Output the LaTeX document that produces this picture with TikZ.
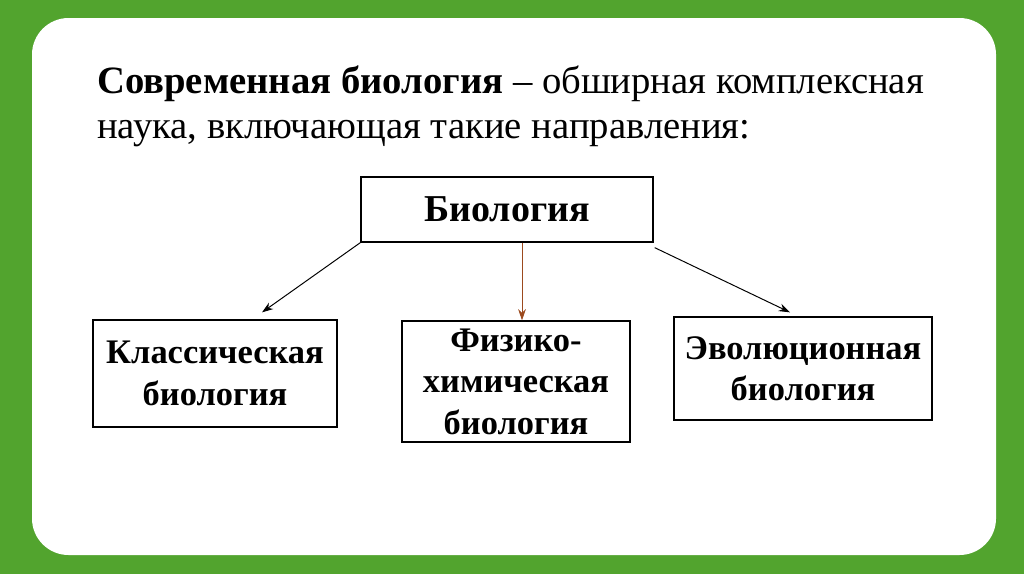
\documentclass[tikz,border=0pt]{standalone}
\usepackage{fontspec}
\setmainfont{Liberation Serif}
\usepackage{xcolor}
\usetikzlibrary{calc, positioning, arrows.meta}

\definecolor{fonzel}{HTML}{52A42E}
\definecolor{strelka}{HTML}{9C4A1E}

\begin{document}
\begin{tikzpicture}[x=0.025cm, y=-0.025cm,
    blok/.style={draw, line width=0.9pt, align=center, font=\fontsize{24.5}{29.5}\selectfont\bfseries, inner sep=0pt},
    vetv/.style={-{Stealth[length=8pt, width=5.5pt]}, line width=0.7pt}]

    % =================================================================
    % 1. FON: ZELYONAYA RAMKA I BELOE POLE
    % =================================================================
    \useasboundingbox (0,0) rectangle (1024,574);
    \fill[fonzel] (0,0) rectangle (1024,574);
    \fill[white, rounded corners=26] (32,18) rectangle (996,555);

    % =================================================================
    % 2. ZAGOLOVOK
    % =================================================================
    \node[anchor=north west, align=left, inner sep=0pt,
          font=\fontsize{27.5}{32}\selectfont] (zagolovok) at (97,66)
        {\textbf{Современная биология} – обширная комплексная\\
         наука, включающая такие направления:};

    % =================================================================
    % 3. BLOKI SKHEMY
    % =================================================================
    \node[blok, font=\fontsize{27}{30}\selectfont\bfseries,
          minimum width=7.3cm, minimum height=1.625cm] (biologiya) at (507,209.5) {Биология};

    \node[blok, minimum width=6.1cm, minimum height=2.675cm] (klass) at (215,373.5)
        {Классическая\\биология};
    \node[blok, minimum width=5.7cm, minimum height=3.025cm] (fizkhim) at (516,381.5)
        {Физико-\\химическая\\биология};
    \node[blok, minimum width=6.45cm, minimum height=2.575cm] (evol) at (803,368.5)
        {Эволюционная\\биология};

    % Strelki ot glavnogo bloka
    \coordinate (kl-verh) at ($(klass.north)+(47,-7)$);
    \coordinate (ev-verh) at ($(evol.north)+(-13,-4)$);
    \draw[vetv] (biologiya.south west) -- (kl-verh);
    \draw[vetv, strelka] ($(biologiya.south)+(15,0)$) -- ($(fizkhim.north)+(6,0)$);
    \draw[vetv] ($(biologiya.south east)+(1,5)$) -- (ev-verh);

\end{tikzpicture}
\end{document}
